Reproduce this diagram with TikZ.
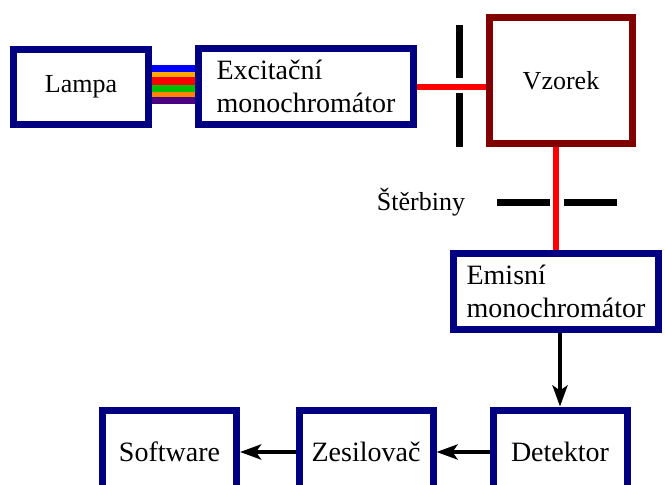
\documentclass[tikz,border=0pt]{standalone}
\usepackage{fontspec}
\newfontfamily\diagfont{Liberation Serif}
\usepackage{xcolor}
\usepackage{tikz}
\usetikzlibrary{arrows.meta}

\definecolor{boxblue}{RGB}{0,0,128}
\definecolor{samplered}{RGB}{128,0,0}
\definecolor{orngA}{RGB}{255,170,0}
\definecolor{orngB}{RGB}{255,130,0}
\definecolor{grn}{RGB}{0,190,0}
\definecolor{purp}{RGB}{75,0,130}

\begin{document}
\begin{tikzpicture}[x=1pt, y=-1pt,
        box/.style={draw=boxblue, line width=7pt, fill=white, inner sep=0pt,
            font=\diagfont\fontsize{28}{33}\selectfont, align=left},
        beam/.style={red, line width=6pt},
        slit/.style={black, line width=7pt},
        signal/.style={black, line width=4pt, -{Stealth[length=21pt,width=15pt,inset=5pt]}}]
        \useasboundingbox (0, 0) rectangle (665, 485);

        % upper row
        \node[box, minimum width=135pt, minimum height=75pt,
            font=\diagfont\fontsize{26}{30}\selectfont] (lampa) at (81, 87) {Lampa};
        \node[box, minimum width=215pt, minimum height=76pt] (exc) at (306, 86.5)
            {Excitační\\monochromátor};
        \node[box, draw=samplered, minimum width=143pt, minimum height=126pt,
            font=\diagfont\fontsize{26}{30}\selectfont] (vzorek) at (561, 80.5) {Vzorek};
        \node[box, minimum width=205pt, minimum height=76pt] (emis) at (556, 291.5)
            {Emisní\\monochromátor};

        % lower row
        \node[box, minimum width=134pt, minimum height=84pt] (det) at (560, 452) {Detektor};
        \node[box, minimum width=134pt, minimum height=84pt] (zes) at (366, 452) {Zesilovač};
        \node[box, minimum width=134pt, minimum height=84pt] (soft) at (169.5, 452) {Software};

        % light from the lamp
        \foreach \col/\ya/\yb in {blue/65/71.5, orngA/71.5/77, red/77/84.5,
                grn/84.5/91.5, orngB/91.5/97, purp/97/104}
            \fill[\col] (lampa.east |- 0, \ya) rectangle (exc.west |- 0, \yb);

        % beams
        \draw[beam] (exc.east) -- (exc.east -| vzorek.west);
        \draw[beam] (emis.north |- vzorek.south) -- (emis.north);

        % slits
        \draw[slit] (459, 25) -- (459, 78);
        \draw[slit] (459, 93) -- (459, 147);
        \draw[slit] (497, 202) -- (550, 202);
        \draw[slit] (564, 202) -- (617, 202);
        \node[font=\diagfont\fontsize{26}{30}\selectfont] (sterb) at (421, 202) {Štěrbiny};

        % signal
        \draw[signal] (emis.south -| det.north) -- (det.north);
        \draw[signal] (det.west) -- (zes.east);
        \draw[signal] (zes.west) -- (soft.east);
    \end{tikzpicture}
\end{document}
